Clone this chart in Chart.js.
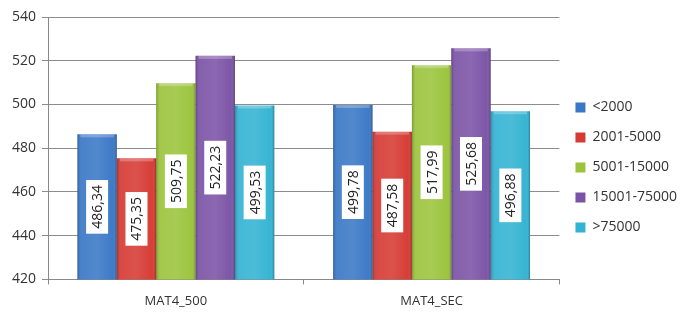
<!DOCTYPE html>
<html>
<head>
<meta charset="utf-8">
<script src="https://cdn.jsdelivr.net/npm/chart.js@4/dist/chart.umd.min.js"></script>
<style>
  html, body { margin: 0; padding: 0; background: #fff; }
  #wrap { width: 683px; height: 316px; }
</style>
</head>
<body>
<div id="wrap"><canvas id="myChart"></canvas></div>
<script>
const categories = ['MAT4_500', 'MAT4_SEC']
const groups = ['<2000', '2001-5000', '5001-15000', '15001-75000', '>75000']
const under2000 = [486.34, 499.78]
const from2001 = [475.35, 487.58]
const from5001 = [509.75, 517.99]
const from15001 = [522.23, 525.68]
const over75000 = [499.53, 496.88]
const yTicks = [420, 440, 460, 480, 500, 520, 540]

const colors = ['#3a78c6', '#d63a33', '#9bc43c', '#7b53a6', '#33b3d3']
const series = [under2000, from2001, from5001, from15001, over75000]

// shading + value boxes drawn on top of the bars
const barDecor = {
  id: 'barDecor',
  afterDatasetsDraw(chart) {
    const ctx = chart.ctx
    const bottom = chart.chartArea.bottom
    chart.data.datasets.forEach((ds, i) => {
      chart.getDatasetMeta(i).data.forEach((bar, j) => {
        const left = bar.x - bar.width / 2
        const base = Math.min(bar.base, bottom)
        const g = ctx.createLinearGradient(left, 0, left + bar.width, 0)
        g.addColorStop(0, 'rgba(0,0,0,0.22)')
        g.addColorStop(0.1, 'rgba(255,255,255,0.08)')
        g.addColorStop(0.5, 'rgba(255,255,255,0.12)')
        g.addColorStop(0.9, 'rgba(255,255,255,0.02)')
        g.addColorStop(1, 'rgba(0,0,0,0.28)')
        ctx.save()
        ctx.fillStyle = g
        ctx.fillRect(left, bar.y, bar.width, base - bar.y)
        ctx.fillStyle = 'rgba(255,255,255,0.25)'
        ctx.fillRect(left + 3, bar.y, bar.width - 6, 3)
        ctx.restore()

        const txt = ds.data[j].toFixed(2).replace('.', ',')
        ctx.save()
        ctx.translate(bar.x, (bar.y + base) / 2)
        ctx.rotate(-Math.PI / 2)
        ctx.font = '14px "Open Sans"'
        const w = ctx.measureText(txt).width + 10
        ctx.fillStyle = '#fff'
        ctx.fillRect(-w / 2, -11, w, 22)
        ctx.fillStyle = '#222'
        ctx.textAlign = 'center'
        ctx.textBaseline = 'middle'
        ctx.fillText(txt, 0, 1)
        ctx.restore()
      })
    })
  }
}

new Chart(document.getElementById('myChart'), {
  type: 'bar',
  data: {
    labels: categories,
    datasets: groups.map((g, i) => ({
      label: g,
      data: series[i],
      backgroundColor: colors[i],
      borderWidth: 0,
      barPercentage: 1,
      categoryPercentage: 0.77
    }))
  },
  options: {
    responsive: true,
    maintainAspectRatio: false,
    animation: false,
    layout: { padding: { top: 17, right: -4, bottom: -2, left: 3 } },
    plugins: {
      tooltip: { enabled: false },
      legend: {
        position: 'right',
        labels: {
          boxWidth: 10,
          boxHeight: 10,
          padding: 16,
          color: '#333',
          font: { family: 'Open Sans', size: 14 }
        }
      }
    },
    scales: {
      x: {
        grid: { drawOnChartArea: false, drawTicks: true, tickLength: 5, color: '#888' },
        border: { color: '#888' },
        ticks: { color: '#333', padding: 9, font: { family: 'Open Sans', size: 13 } }
      },
      y: {
        min: 420,
        max: 540,
        afterBuildTicks: axis => { axis.ticks = yTicks.map(v => ({ value: v })) },
        afterFit: axis => { axis.width = 45 },
        grid: { color: '#8c8c8c', tickLength: 6 },
        border: { color: '#888' },
        ticks: { color: '#333', padding: 6, font: { family: 'Open Sans', size: 14 } }
      }
    }
  },
  plugins: [barDecor]
})
</script>
</body>
</html>
